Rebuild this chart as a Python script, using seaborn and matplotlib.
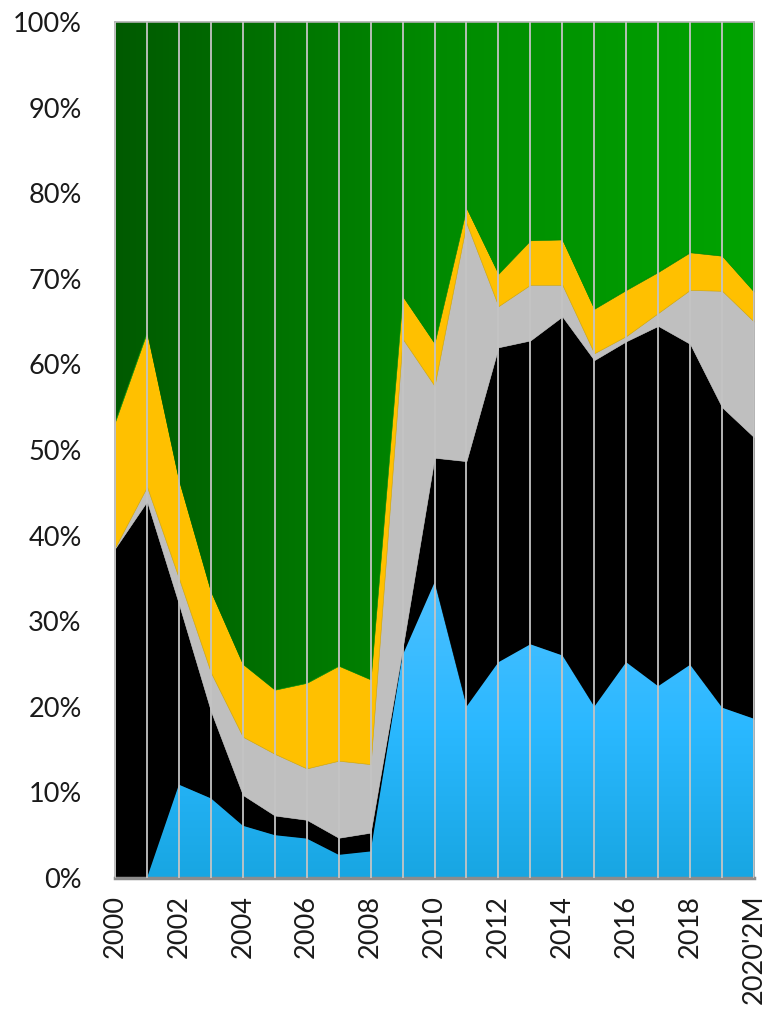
import numpy as np
import pandas as pd
import seaborn as sns
from matplotlib import pyplot as plt
from matplotlib.colors import LinearSegmentedColormap

# categories
years = ['2000', '2001', '2002', '2003', '2004', '2005', '2006', '2007',
         '2008', '2009', '2010', '2011', '2012', '2013', '2014', '2015',
         '2016', '2017', '2018', '2019', "2020'2M"]

# shares of each layer in % (bottom -> top), green is the rest up to 100
blue = [0.0, 0.0, 10.9, 9.3, 6.1, 5.0, 4.6, 2.7, 3.1, 26.0, 34.5,
        20.0, 25.2, 27.3, 26.0, 20.0, 25.2, 22.4, 24.9, 19.9, 18.6]
black = [38.5, 44.0, 21.1, 10.2, 3.6, 2.3, 2.2, 2.0, 2.2, 0.8, 14.6,
         28.7, 36.8, 35.5, 39.6, 40.5, 37.5, 42.1, 37.5, 35.1, 32.9]
gray = [0.1, 1.7, 3.0, 4.5, 6.8, 7.2, 6.0, 9.0, 8.0, 36.2, 8.4,
        27.8, 4.8, 6.5, 3.7, 0.8, 0.6, 1.5, 6.3, 13.6, 13.5]
yellow = [14.7, 18.1, 11.5, 9.5, 8.5, 7.5, 10.0, 11.1, 9.9, 5.0, 5.0,
          1.8, 3.8, 5.2, 5.3, 5.2, 5.4, 4.8, 4.4, 4.1, 3.5]
green = [100 - (a + b + c + d) for a, b, c, d in zip(blue, black, gray, yellow)]

df = pd.DataFrame({'year': years, 'blue': blue, 'black': black,
                   'gray': gray, 'yellow': yellow, 'green': green})

sns.set_style("white")
plt.rcParams['font.family'] = ['Lato', 'DejaVu Sans']

fig = plt.figure(figsize=(7.67, 10.10), dpi=100)
ax = fig.add_axes([0.150, 0.1307, 0.833, 0.8475])

x = np.arange(len(df))
layers = ['blue', 'black', 'gray', 'yellow', 'green']
colors = ['#22b2f2', '#000000', '#bfbfbf', '#ffc000', '#008a00']
polys = ax.stackplot(x, *[df[c] for c in layers], colors=colors,
                     linewidth=0.4, zorder=1)
for p, c in zip(polys, colors):
    p.set_edgecolor(c if c != '#ffc000' else '#c8a000')
polys[0].set_edgecolor('#1aa6e6')

# gradient fills clipped to the blue and green areas
blue_cmap = LinearSegmentedColormap.from_list('b', ['#18a6e2', '#2ab8ff', '#4cc0ff'])
grad_v = np.linspace(0, 1, 256).reshape(-1, 1)
top_b = max(blue)
im = ax.imshow(grad_v, cmap=blue_cmap, origin='lower', aspect='auto',
               extent=[0, len(df) - 1, 0, top_b], zorder=1.2)
im.set_clip_path(polys[0].get_paths()[0], transform=ax.transData)

green_cmap = LinearSegmentedColormap.from_list('g', ['#005a00', '#008a00', '#00a400'])
grad_h = np.linspace(0, 1, 256).reshape(1, -1)
im2 = ax.imshow(grad_h, cmap=green_cmap, aspect='auto',
                extent=[0, len(df) - 1, 0, 100], zorder=1.2)
im2.set_clip_path(polys[4].get_paths()[0], transform=ax.transData)

ax.set_xlim(0, len(df) - 1)
ax.set_ylim(0, 100)

labels = [y if i % 2 == 0 else '' for i, y in enumerate(years)]
ax.set_xticks(x)
ax.set_xticklabels(labels, rotation=90, fontsize=19.5, color='#1a1a1a')
ax.set_yticks(np.arange(0, 101, 10))
ax.set_yticklabels([f'{v}%' for v in range(0, 101, 10)], fontsize=19.5,
                   color='#1a1a1a')
ax.tick_params(axis='both', length=0)
ax.tick_params(axis='x', pad=12)
ax.tick_params(axis='y', pad=24)

ax.set_axisbelow(False)
ax.grid(axis='x', color='#c4c4c4', linewidth=1.3)
ax.grid(axis='y', visible=False)

for side in ['left', 'right', 'top']:
    ax.spines[side].set_color('#b0b0b0')
    ax.spines[side].set_linewidth(1.2)
ax.spines['bottom'].set_color('#8c8c8c')
ax.spines['bottom'].set_linewidth(2.5)

fig.savefig('out.png', dpi=100)
